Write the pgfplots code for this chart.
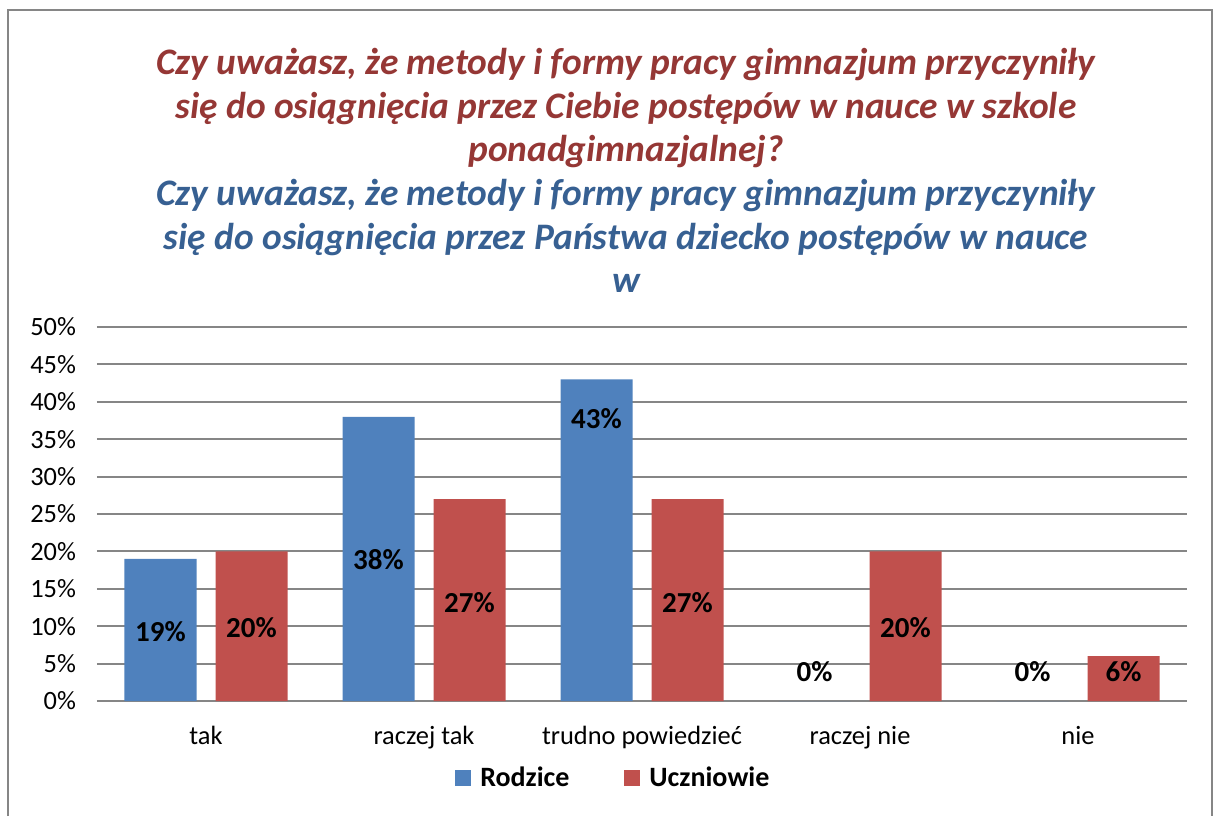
\documentclass[border=0pt]{standalone}
\usepackage{pgfplots}
\pgfplotsset{compat=1.18}
\usepackage{fontspec}
\setmainfont{Carlito}
\definecolor{rodzice}{HTML}{4F81BD}
\definecolor{uczniowie}{HTML}{C0504D}
\definecolor{titlered}{HTML}{953735}
\definecolor{titleblue}{HTML}{376092}
\definecolor{gridgray}{HTML}{868686}

\begin{document}
\begin{tikzpicture}[x=0.5pt,y=0.5pt]
\useasboundingbox (0,0) rectangle (1217,816);
\draw[gridgray, line width=1pt] (8,0) -- (8,806) -- (1212,806) -- (1212,0);

% title lines
\tikzset{ttl/.style={anchor=base, font=\fontsize{18.7}{22}\bfseries\itshape\selectfont}}
\node[ttl, text=titlered]  at (626,741)   {Czy uważasz, że metody i formy pracy gimnazjum przyczyniły};
\node[ttl, text=titlered]  at (626,697.5) {się do osiągnięcia przez Ciebie postępów w nauce w szkole};
\node[ttl, text=titlered]  at (626,654)   {ponadgimnazjalnej?};
\node[ttl, text=titleblue] at (626,610.5) {Czy uważasz, że metody i formy pracy gimnazjum przyczyniły};
\node[ttl, text=titleblue] at (626,567)   {się do osiągnięcia przez Państwa dziecko postępów w nauce};
\node[ttl, text=titleblue] at (626,523.5) {w};

\begin{axis}[
    at={(48.5pt,57.5pt)}, anchor=south west,
    width=545pt, height=187pt, scale only axis,
    xmin=-0.5, xmax=4.5, ymin=0, ymax=50,
    axis line style={draw=none},
    tick style={draw=none},
    ymajorgrids,
    grid style={gridgray, line width=1pt},
    ytick={0,5,...,50},
    yticklabels={0\%,5\%,10\%,15\%,20\%,25\%,30\%,35\%,40\%,45\%,50\%},
    xtick={0,...,4},
    xticklabels={tak, raczej tak, trudno powiedzieć, raczej nie, nie},
    ticklabel style={font=\fontsize{13.2}{16}\selectfont},
    yticklabel style={xshift=-7pt},
    xticklabel style={yshift=-9pt},
    legend style={at={(0.4746,-0.206)}, anchor=center, draw=none,
        legend columns=2,
        font=\fontsize{14}{17}\bfseries\selectfont,
        /tikz/every even column/.append style={column sep=25.5pt}},
    legend image code/.code={\fill[#1] (0pt,-4pt) rectangle (8pt,4pt);
        \path (10.5pt,0pt);},
    clip=false,
]

\addplot[ybar, bar width=36pt, bar shift=-22.75pt, fill=rodzice, draw=none]
    coordinates {(0,19) (1,38) (2,43) (3,0) (4,0)};
\addlegendentry{Rodzice}
\addplot[ybar, bar width=36pt, bar shift=22.75pt, fill=uczniowie, draw=none]
    coordinates {(0,20) (1,27) (2,27) (3,20) (4,6)};
\addlegendentry{Uczniowie}

% data labels
\addplot[draw=none, forget plot, nodes near coords, point meta=explicit symbolic,
    nodes near coords style={anchor=center, font=\fontsize{14.5}{17}\bfseries\selectfont}]
    coordinates {(-0.2087,9.3) [19\%] (0.7913,18.9) [38\%] (1.7913,37.8) [43\%]
                 (2.7913,3.9) [0\%] (3.7913,3.9) [0\%]};
\addplot[draw=none, forget plot, nodes near coords, point meta=explicit symbolic,
    nodes near coords style={anchor=center, font=\fontsize{14.5}{17}\bfseries\selectfont}]
    coordinates {(0.2087,9.8) [20\%] (1.2087,13.2) [27\%] (2.2087,13.2) [27\%]
                 (3.2087,9.8) [20\%] (4.2087,3.9) [6\%]};
\end{axis}
\end{tikzpicture}
\end{document}
